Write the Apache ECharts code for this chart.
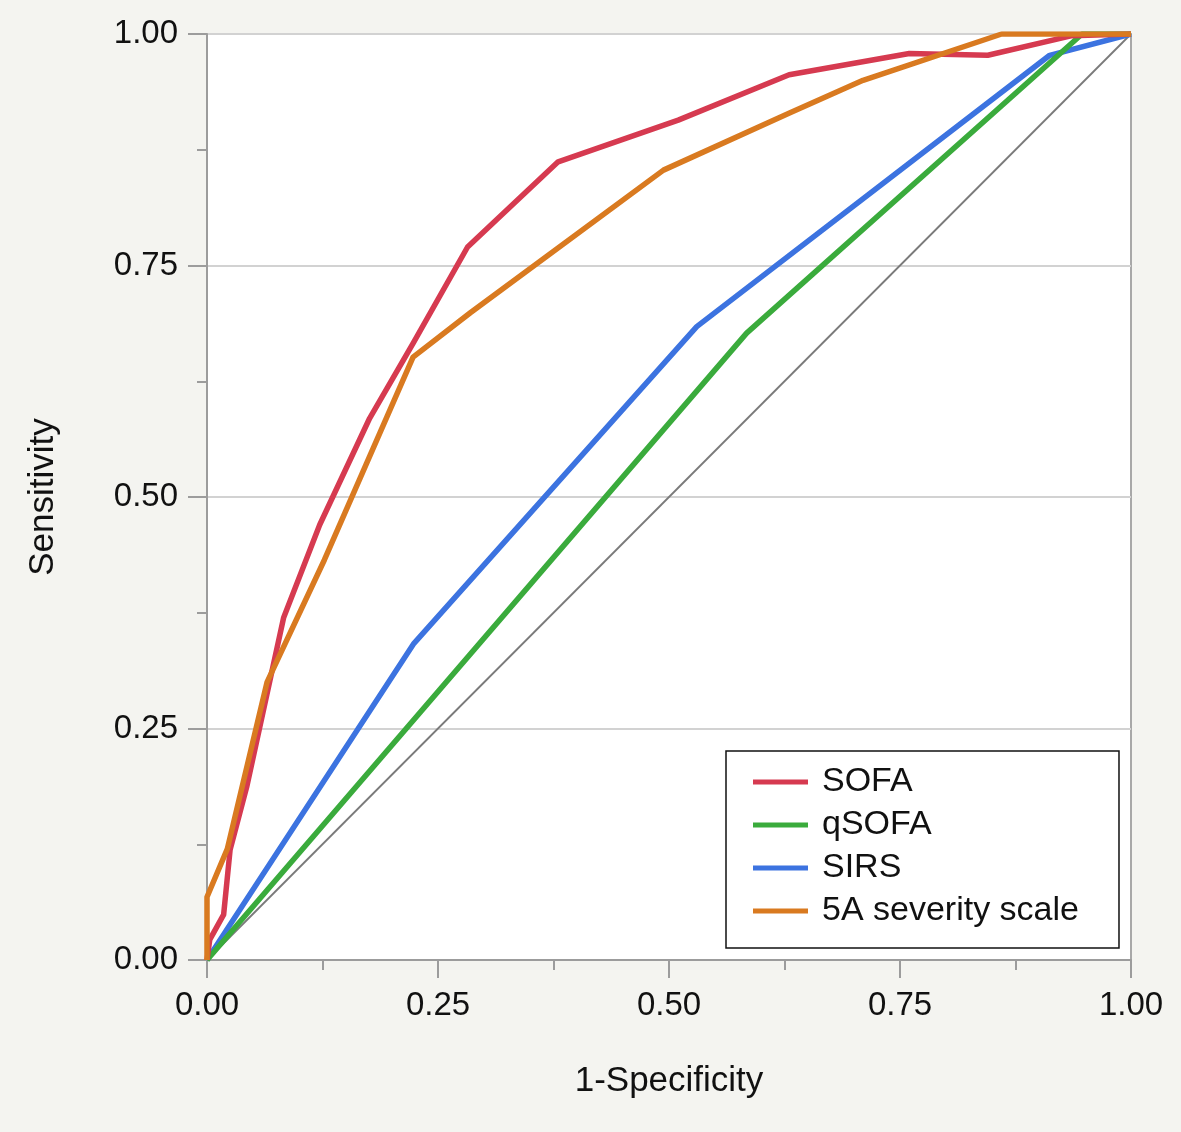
<!DOCTYPE html>
<html>
<head>
<meta charset="utf-8">
<script src="https://cdn.jsdelivr.net/npm/echarts@6/dist/echarts.min.js"></script>
<style>
html,body{margin:0;padding:0;background:#f4f4f0;}
#chart{width:1181px;height:1132px;}
</style>
</head>
<body>
<div id="chart"></div>
<script>
const seriesNames = ['SOFA', 'qSOFA', 'SIRS', '5A severity scale'];
const axisTicks = [0, 0.25, 0.5, 0.75, 1];

const sofaX = [0, 0.003, 0.018, 0.025, 0.043, 0.083, 0.122, 0.176, 0.223, 0.282, 0.38, 0.51, 0.63, 0.76, 0.845, 0.935, 1];
const sofaY = [0, 0.022, 0.049, 0.119, 0.187, 0.37, 0.47, 0.585, 0.666, 0.77, 0.862, 0.907, 0.956, 0.979, 0.977, 0.998, 1];

const qsofaX = [0, 0.584, 0.947, 1];
const qsofaY = [0, 0.677, 1, 1];

const sirsX = [0, 0.224, 0.53, 0.912, 1];
const sirsY = [0, 0.342, 0.684, 0.977, 1];

const fiveAX = [0, 0, 0.022, 0.065, 0.127, 0.223, 0.285, 0.494, 0.631, 0.71, 0.86, 1];
const fiveAY = [0, 0.068, 0.12, 0.3, 0.432, 0.651, 0.699, 0.853, 0.915, 0.95, 1, 1];

const refX = [0, 1];
const refY = [0, 1];

function pairs(xs, ys) { return xs.map((x, i) => [x, ys[i]]); }

const chart = echarts.init(document.getElementById('chart'));
const FONT = '"Liberation Sans", Arial, Helvetica, sans-serif';
const axisGray = '#9c9c9c';

function lineSeries(name, xs, ys, color, width, z) {
  return {
    name: name, type: 'line', data: pairs(xs, ys), symbol: 'none',
    lineStyle: { color: color, width: width, join: 'round' },
    itemStyle: { color: color }, z: z, silent: true, animation: false
  };
}

chart.setOption({
  backgroundColor: '#f4f4f0',
  animation: false,
  grid: {
    left: 207, top: 34, right: 50, bottom: 172,
    show: true, backgroundColor: '#ffffff', borderColor: '#a8a8a8', borderWidth: 2
  },
  xAxis: {
    type: 'value', min: 0, max: 1, interval: 0.25,
    name: '1-Specificity', nameLocation: 'middle', nameGap: 104,
    nameTextStyle: { fontFamily: FONT, fontSize: 35, color: '#111' },
    axisLine: { show: true, lineStyle: { color: axisGray, width: 2 } },
    axisTick: { show: true, length: 18, lineStyle: { color: axisGray, width: 2 } },
    minorTick: { show: true, splitNumber: 2, length: 10, lineStyle: { color: axisGray, width: 2 } },
    splitLine: { show: false },
    axisLabel: { fontFamily: FONT, fontSize: 33, color: '#111', margin: 29,
      formatter: v => v.toFixed(2) }
  },
  yAxis: {
    type: 'value', min: 0, max: 1, interval: 0.25,
    name: 'Sensitivity', nameLocation: 'middle', nameGap: 146,
    nameTextStyle: { fontFamily: FONT, fontSize: 35, color: '#111' },
    axisLine: { show: true, lineStyle: { color: axisGray, width: 2 } },
    axisTick: { show: true, length: 19, lineStyle: { color: axisGray, width: 2 } },
    minorTick: { show: true, splitNumber: 2, length: 10, lineStyle: { color: axisGray, width: 2 } },
    splitLine: { show: true, lineStyle: { color: '#d2d2d2', width: 2 } },
    axisLabel: { fontFamily: FONT, fontSize: 33, color: '#111', margin: 29,
      formatter: v => v.toFixed(2) }
  },
  legend: {
    data: seriesNames,
    orient: 'vertical',
    left: 726, top: 751,
    backgroundColor: '#ffffff',
    borderColor: '#111111', borderWidth: 1.5, borderRadius: 0,
    padding: [14, 40, 20, 27],
    icon: 'rect',
    itemWidth: 55, itemHeight: 5, itemGap: 9,
    selectedMode: false,
    textStyle: { fontFamily: FONT, fontSize: 34, color: '#111', lineHeight: 34, padding: [0, 0, 0, 9] }
  },
  series: [
    lineSeries('ref', refX, refY, '#7a7a7a', 1.8, 1),
    lineSeries(seriesNames[2], sirsX, sirsY, '#3c73e0', 5.5, 2),
    lineSeries(seriesNames[1], qsofaX, qsofaY, '#3aab3c', 5.5, 3),
    lineSeries(seriesNames[0], sofaX, sofaY, '#d63a50', 5.5, 4),
    lineSeries(seriesNames[3], fiveAX, fiveAY, '#d97a20', 5.5, 5)
  ]
});
</script>
</body>
</html>
